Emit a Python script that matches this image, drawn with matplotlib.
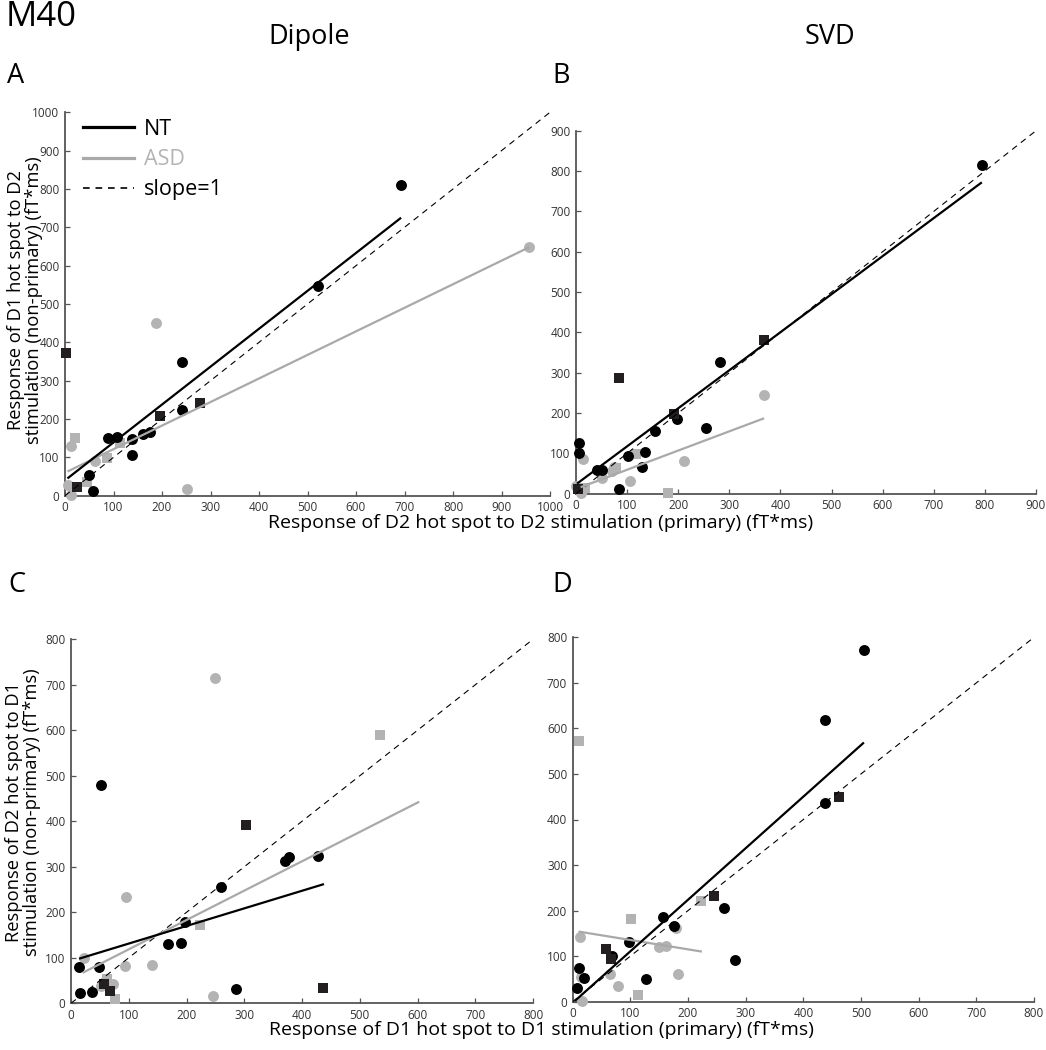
import matplotlib
matplotlib.use("Agg")
import matplotlib.pyplot as plt
from matplotlib.lines import Line2D
import numpy as np

plt.rcParams['font.family'] = ['Open Sans', 'DejaVu Sans']

W, H = 1046, 1050

# ---------------- data ----------------
# Panel A (Dipole, D1 response to D2 vs D2 response to D2)
A_nt_circ_x = [88, 108, 139, 139, 161, 175, 242, 242, 49, 57, 693, 522]
A_nt_circ_y = [151, 154, 148, 105, 161, 165, 348, 223, 53, 13, 810, 547]
A_nt_sq_x = [3, 25, 195, 278]
A_nt_sq_y = [373, 22, 208, 242]
A_asd_circ_x = [188, 12, 62, 6, 13, 252, 957]
A_asd_circ_y = [450, 130, 90, 29, 3, 18, 648]
A_asd_sq_x = [21, 46, 86, 114]
A_asd_sq_y = [150, 35, 98, 138]
A_nt_fit_x = [5, 693]
A_nt_fit_y = [45, 725]
A_asd_fit_x = [5, 957]
A_asd_fit_y = [63, 648]
A_unity = [0, 1000]
A_ticks = list(range(0, 1001, 100))

# Panel B (SVD)
B_nt_circ_x = [6, 5, 42, 50, 101, 85, 130, 135, 155, 197, 255, 281, 794]
B_nt_circ_y = [126, 100, 59, 59, 93, 11, 67, 104, 155, 184, 163, 326, 815]
B_nt_sq_x = [4, 85, 191, 368]
B_nt_sq_y = [11, 286, 197, 382]
B_asd_circ_x = [0, 14, 9, 51, 70, 75, 105, 211, 368]
B_asd_circ_y = [19, 86, 2, 38, 56, 67, 31, 82, 245]
B_asd_sq_x = [18, 79, 117, 180]
B_asd_sq_y = [13, 64, 98, 2]
B_nt_fit_x = [2, 794]
B_nt_fit_y = [25, 772]
B_asd_fit_x = [9, 368]
B_asd_fit_y = [16, 187]
B_unity = [0, 900]
B_ticks = list(range(0, 901, 100))

# Panel C (Dipole, D2 response to D1 vs D1 response to D1)
C_nt_circ_x = [14, 15, 36, 48, 52, 168, 191, 197, 260, 285, 370, 378, 428]
C_nt_circ_y = [79, 22, 25, 80, 479, 130, 133, 178, 256, 31, 312, 321, 324]
C_nt_sq_x = [303, 437, 57, 68]
C_nt_sq_y = [391, 34, 42, 28]
C_asd_circ_x = [249, 95, 22, 94, 141, 246, 52, 72]
C_asd_circ_y = [716, 234, 100, 81, 85, 17, 37, 42]
C_asd_sq_x = [63, 77, 223, 535]
C_asd_sq_y = [53, 9, 171, 590]
C_nt_fit_x = [14, 438]
C_nt_fit_y = [98, 262]
C_asd_fit_x = [20, 603]
C_asd_fit_y = [67, 443]
C_unity = [0, 800]
C_ticks = list(range(0, 801, 100))

# Panel D (SVD)
D_nt_circ_x = [8, 11, 20, 68, 97, 127, 156, 175, 262, 282, 437, 505, 438]
D_nt_circ_y = [31, 74, 51, 100, 132, 50, 186, 166, 205, 92, 618, 772, 436]
D_nt_sq_x = [57, 66, 245, 462]
D_nt_sq_y = [116, 94, 232, 450]
D_asd_circ_x = [12, 16, 15, 65, 78, 150, 161, 179, 183]
D_asd_circ_y = [143, 2, 55, 61, 34, 121, 123, 162, 60]
D_asd_sq_x = [11, 101, 113, 223]
D_asd_sq_y = [572, 182, 15, 222]
D_nt_fit_x = [4, 505]
D_nt_fit_y = [2, 569]
D_asd_fit_x = [10, 224]
D_asd_fit_y = [154, 110]
D_unity = [0, 800]
D_ticks = list(range(0, 801, 100))

legend_labels = ["NT", "ASD", "slope=1"]

# ---------------- style ----------------
BLACK = '#000000'
DARKSQ = '#231f20'
GRAY = '#b3b3b3'
GRAYLINE = '#a9a9a9'
SPINE = '#555555'
TICKTXT = '#333333'

fig = plt.figure(figsize=(W / 100, H / 100), dpi=100)


def px_axes(l, t, r, b):
    return fig.add_axes([l / W, 1 - b / H, (r - l) / W, (b - t) / H])


def draw_panel(ax, d, ticks, lim):
    ax.scatter(d['ac_x'], d['ac_y'], s=62, marker='o', color=GRAY, linewidths=0, zorder=3, clip_on=False)
    ax.scatter(d['as_x'], d['as_y'], s=52, marker='s', color=GRAY, linewidths=0, zorder=3, clip_on=False)
    ax.scatter(d['nc_x'], d['nc_y'], s=62, marker='o', color=BLACK, linewidths=0, zorder=4, clip_on=False)
    ax.scatter(d['ns_x'], d['ns_y'], s=52, marker='s', color=DARKSQ, linewidths=0, zorder=4, clip_on=False)
    ax.plot(d['unity'], d['unity'], color='black', lw=0.8, dashes=(5.5, 4.5), zorder=5)
    ax.plot(d['af_x'], d['af_y'], color=GRAYLINE, lw=1.6, zorder=5, solid_capstyle='butt')
    ax.plot(d['nf_x'], d['nf_y'], color='black', lw=1.6, zorder=6, solid_capstyle='butt')
    ax.set_xlim(0, lim)
    ax.set_ylim(0, lim)
    ax.set_xticks(ticks)
    ax.set_yticks(ticks)
    ax.set_xticklabels([str(t) for t in ticks])
    ax.set_yticklabels([str(t) for t in ticks])
    for s in ['top', 'right']:
        ax.spines[s].set_visible(False)
    for s in ['left', 'bottom']:
        ax.spines[s].set_color(SPINE)
        ax.spines[s].set_linewidth(1.3)
    ax.tick_params(direction='in', length=3.5, width=0.9, color=SPINE,
                   labelsize=8.5, labelcolor=TICKTXT, pad=4)
    ax.patch.set_alpha(0)


panels = {
    'A': dict(nc_x=A_nt_circ_x, nc_y=A_nt_circ_y, ns_x=A_nt_sq_x, ns_y=A_nt_sq_y,
              ac_x=A_asd_circ_x, ac_y=A_asd_circ_y, as_x=A_asd_sq_x, as_y=A_asd_sq_y,
              nf_x=A_nt_fit_x, nf_y=A_nt_fit_y, af_x=A_asd_fit_x, af_y=A_asd_fit_y, unity=A_unity),
    'B': dict(nc_x=B_nt_circ_x, nc_y=B_nt_circ_y, ns_x=B_nt_sq_x, ns_y=B_nt_sq_y,
              ac_x=B_asd_circ_x, ac_y=B_asd_circ_y, as_x=B_asd_sq_x, as_y=B_asd_sq_y,
              nf_x=B_nt_fit_x, nf_y=B_nt_fit_y, af_x=B_asd_fit_x, af_y=B_asd_fit_y, unity=B_unity),
    'C': dict(nc_x=C_nt_circ_x, nc_y=C_nt_circ_y, ns_x=C_nt_sq_x, ns_y=C_nt_sq_y,
              ac_x=C_asd_circ_x, ac_y=C_asd_circ_y, as_x=C_asd_sq_x, as_y=C_asd_sq_y,
              nf_x=C_nt_fit_x, nf_y=C_nt_fit_y, af_x=C_asd_fit_x, af_y=C_asd_fit_y, unity=C_unity),
    'D': dict(nc_x=D_nt_circ_x, nc_y=D_nt_circ_y, ns_x=D_nt_sq_x, ns_y=D_nt_sq_y,
              ac_x=D_asd_circ_x, ac_y=D_asd_circ_y, as_x=D_asd_sq_x, as_y=D_asd_sq_y,
              nf_x=D_nt_fit_x, nf_y=D_nt_fit_y, af_x=D_asd_fit_x, af_y=D_asd_fit_y, unity=D_unity),
}

axA = px_axes(65, 112.3, 550, 495.7)
axB = px_axes(576, 130.7, 1036, 493.7)
axC = px_axes(71, 639.3, 533, 1003.3)
axD = px_axes(572.7, 637.3, 1034, 1001.7)

draw_panel(axA, panels['A'], A_ticks, 1000)
draw_panel(axB, panels['B'], B_ticks, 900)
draw_panel(axC, panels['C'], C_ticks, 800)
draw_panel(axD, panels['D'], D_ticks, 800)

# legend in panel A
handles = [Line2D([], [], color='black', lw=2.3),
           Line2D([], [], color=GRAYLINE, lw=2.3),
           Line2D([], [], color='black', lw=1.2, dashes=(4, 3.5))]
leg = axA.legend(handles, legend_labels, loc='upper left', bbox_to_anchor=(0.02, 1.005),
                 frameon=False, fontsize=15.5, handlelength=2.35, handletextpad=0.45,
                 labelspacing=0.42, borderaxespad=0)
for txt, c in zip(leg.get_texts(), ['black', GRAY, 'black']):
    txt.set_color(c)


def ftext(x, y, s, **kw):
    fig.text(x / W, 1 - y / H, s, **kw)


ftext(6, 17, "M40", fontsize=25, ha='left', va='center')
ftext(309, 37, "Dipole", fontsize=19.5, ha='center', va='center')
ftext(830, 37, "SVD", fontsize=19.5, ha='center', va='center')
ftext(7, 76, "A", fontsize=19.5, ha='left', va='center')
ftext(552, 76, "B", fontsize=19.5, ha='left', va='center')
ftext(8, 585, "C", fontsize=19.5, ha='left', va='center')
ftext(552, 585, "D", fontsize=19.5, ha='left', va='center')

ftext(541, 523, "Response of D2 hot spot to D2 stimulation (primary) (fT*ms)",
      fontsize=14, ha='center', va='center')
ftext(541, 1030, "Response of D1 hot spot to D1 stimulation (primary) (fT*ms)",
      fontsize=14, ha='center', va='center')
ftext(25, 300, "Response of D1 hot spot to D2\nstimulation (non-primary) (fT*ms)",
      fontsize=13.2, ha='center', va='center', rotation=90, linespacing=1.05)
ftext(23, 812, "Response of D2 hot spot to D1\nstimulation (non-primary) (fT*ms)",
      fontsize=13.2, ha='center', va='center', rotation=90, linespacing=1.05)

fig.savefig("out.png", dpi=100)
